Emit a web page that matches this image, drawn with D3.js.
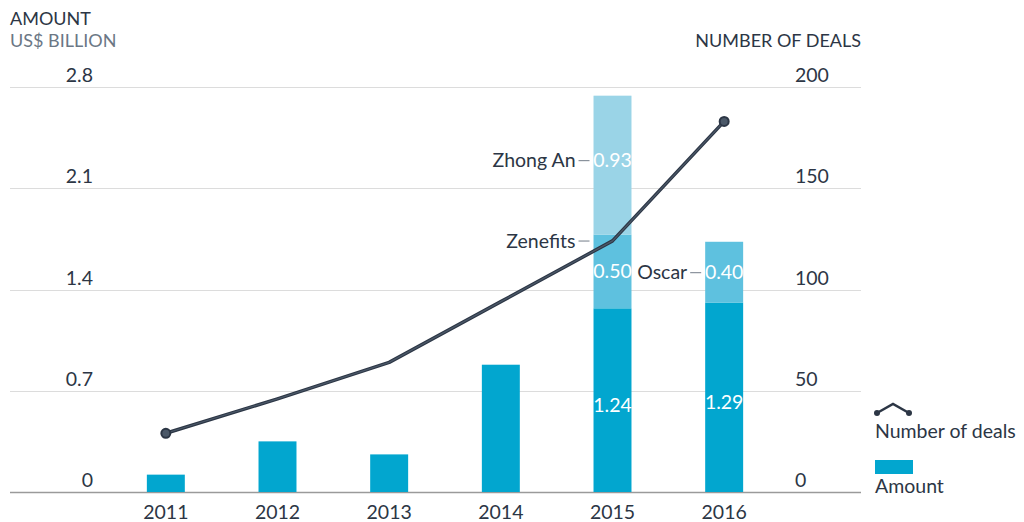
<!DOCTYPE html>
<html lang="en">
<head>
<meta charset="UTF-8" />
<title>Amount and number of deals</title>
<script src="https://d3js.org/d3.v7.min.js"></script>
<style>
  body { margin: 0; background: #fff; font-family: Lato, "Open Sans", sans-serif; }
  svg { display: block; }
  text { fill: #2c3645; }
</style>
</head>
<body>
<svg id="chart" width="1024" height="522"></svg>
<script>
const years = ["2011", "2012", "2013", "2014", "2015", "2016"];
// base amount (US$ bn), as drawn
const baseAmount = [0.12, 0.35, 0.26, 0.88, 1.27, 1.31];
// highlighted deals stacked on top
const topDeals = [
  { year: "2015", name: "Zenefits", value: 0.51, label: "0.50", shade: "mid" },
  { year: "2015", name: "Zhong An", value: 0.96, label: "0.93", shade: "light" },
  { year: "2016", name: "Oscar", value: 0.42, label: "0.40", shade: "mid" }
];
const baseLabels = { "2015": "1.24", "2016": "1.29" };
const deals = [29, 46, 64, 94, 124, 183];
const leftTicks = [0, 0.7, 1.4, 2.1, 2.8];
const rightTicks = [0, 50, 100, 150, 200];

const colors = { base: "#02a6cf", mid: "#5ec1df", light: "#9ad4e7", line: "#2c3645" };

const svg = d3.select("#chart");
const x0 = 10, x1 = 861, yBase = 492, yTop = 87;
const fs = 19.5;

const x = d3.scaleBand().domain(years).range([110, 780]).paddingInner(0.66).paddingOuter(0.33);
const yL = d3.scaleLinear().domain([0, 2.8]).range([yBase, yTop]);
const yR = d3.scaleLinear().domain([0, 200]).range([yBase, yTop]);

// gridlines
svg.append("g").selectAll("line")
  .data(leftTicks)
  .join("line")
  .attr("x1", x0).attr("x2", x1)
  .attr("y1", d => Math.round(yL(d)) + 0.5).attr("y2", d => Math.round(yL(d)) + 0.5)
  .attr("stroke", d => d === 0 ? "#9a9a9a" : "#dcdcdc")
  .attr("stroke-width", d => d === 0 ? 1.5 : 1.2);

// tick labels
svg.append("g").selectAll("text")
  .data(leftTicks)
  .join("text")
  .attr("x", 93).attr("y", d => yL(d) - 5)
  .attr("text-anchor", "end")
  .attr("font-size", fs)
  .text(d => d === 0 ? "0" : d.toFixed(1));

svg.append("g").selectAll("text")
  .data(rightTicks)
  .join("text")
  .attr("x", 795).attr("y", d => yR(d) - 5)
  .attr("font-size", fs)
  .text(d => d);

// axis titles
svg.append("text").attr("x", 10).attr("y", 25).attr("font-size", 18).text("AMOUNT");
svg.append("text").attr("x", 10).attr("y", 47).attr("font-size", 18).style("fill", "#6b7785").text("US$ BILLION");
svg.append("text").attr("x", 861).attr("y", 47).attr("font-size", 18).attr("text-anchor", "end").text("NUMBER OF DEALS");

// year labels
svg.append("g").selectAll("text")
  .data(years)
  .join("text")
  .attr("x", d => x(d) + x.bandwidth() / 2).attr("y", 519)
  .attr("text-anchor", "middle")
  .attr("font-size", fs)
  .text(d => d);

// base bars
svg.append("g").selectAll("rect")
  .data(years)
  .join("rect")
  .attr("x", d => x(d)).attr("width", x.bandwidth())
  .attr("y", (d, i) => yL(baseAmount[i]))
  .attr("height", (d, i) => yBase - yL(baseAmount[i]))
  .attr("fill", colors.base);

// stacked highlighted segments
const stackTop = {};
years.forEach((y, i) => stackTop[y] = baseAmount[i]);
const segs = topDeals.map(d => {
  const lo = stackTop[d.year];
  stackTop[d.year] = lo + d.value;
  return Object.assign({}, d, { lo: lo, hi: lo + d.value });
});

svg.append("g").selectAll("rect")
  .data(segs)
  .join("rect")
  .attr("x", d => x(d.year)).attr("width", x.bandwidth())
  .attr("y", d => yL(d.hi))
  .attr("height", d => yL(d.lo) - yL(d.hi))
  .attr("fill", d => colors[d.shade]);

// label centre of a segment (the tall light one sits a little high)
const segMid = d => (yL(d.lo) + yL(d.hi)) / 2 - (d.shade === "light" ? 5 : 0);

// value labels in segments
svg.append("g").selectAll("text")
  .data(segs)
  .join("text")
  .attr("x", d => x(d.year) + x.bandwidth() / 2)
  .attr("y", d => segMid(d) + 7)
  .attr("text-anchor", "middle")
  .attr("font-size", fs)
  .style("fill", "#fff")
  .text(d => d.label);

svg.append("g").selectAll("text")
  .data(Object.keys(baseLabels))
  .join("text")
  .attr("x", d => x(d) + x.bandwidth() / 2)
  .attr("y", d => (yBase + yL(baseAmount[years.indexOf(d)])) / 2 + 12)
  .attr("text-anchor", "middle")
  .attr("font-size", fs)
  .style("fill", "#fff")
  .text(d => baseLabels[d]);

// deal name callouts with leader dash
const nameY = d => d.name === "Zenefits" ? yL(d.hi) + 6 : segMid(d);
const callouts = svg.append("g").selectAll("g")
  .data(segs)
  .join("g");
callouts.append("line")
  .attr("x1", d => x(d.year) - 15).attr("x2", d => x(d.year) - 4)
  .attr("y1", d => nameY(d) + 0.5).attr("y2", d => nameY(d) + 0.5)
  .attr("stroke", "#8a929c").attr("stroke-width", 1.2);
callouts.append("text")
  .attr("x", d => x(d.year) - 18)
  .attr("y", d => nameY(d) + 7)
  .attr("text-anchor", "end")
  .attr("font-size", fs)
  .text(d => d.name);

// number of deals line
const lineGen = d3.line()
  .x((d, i) => x(years[i]) + x.bandwidth() / 2)
  .y(d => yR(d));

svg.append("path")
  .datum(deals)
  .attr("d", lineGen)
  .attr("fill", "none")
  .attr("stroke", colors.line)
  .attr("stroke-width", 3.5)
  .attr("stroke-linejoin", "round");
svg.append("path")
  .datum(deals)
  .attr("d", lineGen)
  .attr("fill", "none")
  .attr("stroke", "#4b5868")
  .attr("stroke-width", 1.2);

svg.append("g").selectAll("circle")
  .data([0, deals.length - 1])
  .join("circle")
  .attr("cx", i => x(years[i]) + x.bandwidth() / 2)
  .attr("cy", i => yR(deals[i]))
  .attr("r", 4.5)
  .attr("fill", "#4b5868")
  .attr("stroke", colors.line)
  .attr("stroke-width", 2);

// legend
const lg = svg.append("g");
lg.append("path")
  .attr("d", "M877,413 L893,404 L909,413")
  .attr("fill", "none").attr("stroke", colors.line).attr("stroke-width", 2.5);
lg.selectAll("circle")
  .data([[877, 413], [909, 413]])
  .join("circle")
  .attr("cx", d => d[0]).attr("cy", d => d[1]).attr("r", 3)
  .attr("fill", colors.line);
lg.append("text").attr("x", 875).attr("y", 438).attr("font-size", fs).text("Number of deals");
lg.append("rect").attr("x", 875).attr("y", 460).attr("width", 38).attr("height", 14).attr("fill", colors.base);
lg.append("text").attr("x", 875).attr("y", 493).attr("font-size", fs).text("Amount");
</script>
</body>
</html>
